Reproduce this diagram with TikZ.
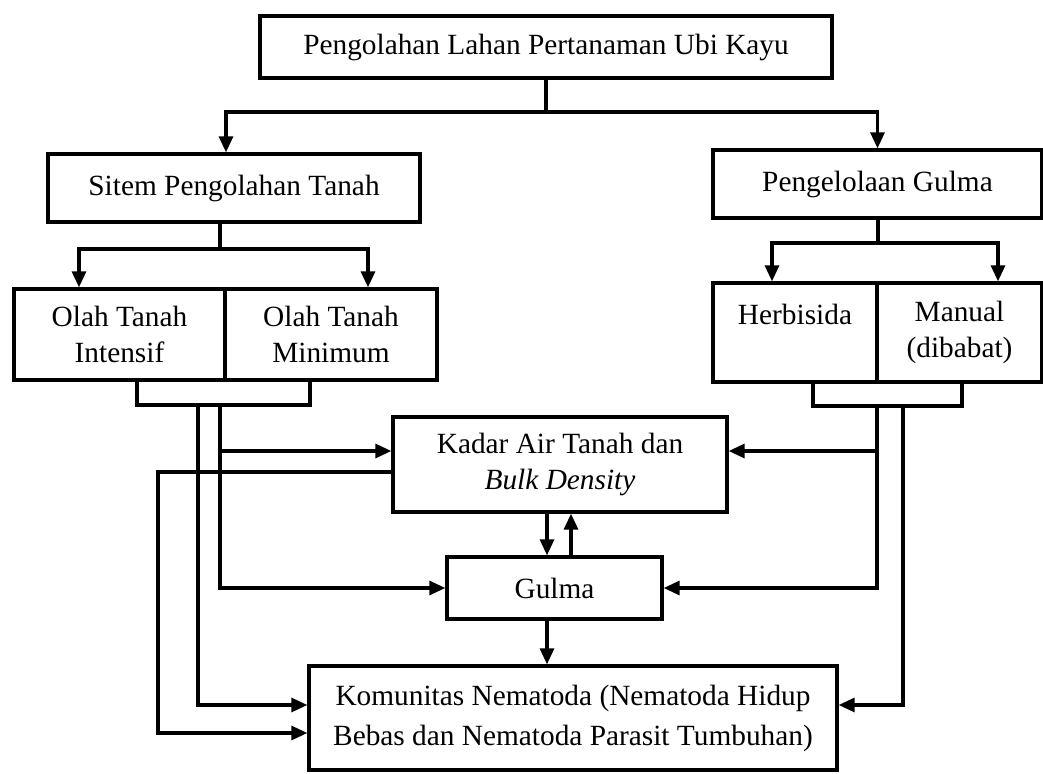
\documentclass[tikz,border=0pt]{standalone}
\usepackage{fontspec}
\setmainfont{Liberation Serif}
\usetikzlibrary{arrows.meta,calc}
\begin{document}
\begin{tikzpicture}[x=0.75pt,y=-0.75pt,
  ln/.style={line width=2.4pt},
  arr/.style={line width=2.4pt,-{Triangle[length=12pt,width=10.5pt]}},
  bx/.style={draw,line width=2.5pt,inner sep=0pt,align=center,
    font=\fontsize{22}{27}\selectfont}]
\useasboundingbox (0,0) rectangle (1043,774);
% boxes
\node[bx,minimum width=429pt,minimum height=46.5pt] (top) at (546,47) {Pengolahan Lahan Pertanaman Ubi Kayu};
\node[bx,minimum width=279pt,minimum height=51pt] (sitem) at (234,188) {Sitem Pengolahan Tanah};
\node[bx,minimum width=246.75pt,minimum height=51pt] (peng) at (877.5,184) {Pengelolaan Gulma};
\node[bx,minimum width=158.25pt,minimum height=68.25pt] (olah1) at (119.5,334.5) {Olah Tanah\\Intensif};
\node[bx,minimum width=159pt,minimum height=68.25pt] (olah2) at (331,334.5) {Olah Tanah\\Minimum};
\node[bx,minimum width=123pt,minimum height=74.25pt] (herb) at (795,332.5) {Herbisida\\\mbox{}};
\node[bx,minimum width=123.75pt,minimum height=74.25pt] (manual) at (959.5,332.5) {Manual\\(dibabat)};
\node[bx,minimum width=250.5pt,minimum height=71.25pt] (kadar) at (560,464.5) {Kadar Air Tanah dan\\\textit{Bulk Density}};
\node[bx,minimum width=161.25pt,minimum height=46.5pt] (gulma) at (554.5,588) {Gulma};
\node[bx,minimum width=396pt,minimum height=78pt,font=\fontsize{22}{30}\selectfont] (kom) at (573,718) {Komunitas Nematoda (Nematoda Hidup\\Bebas dan Nematoda Parasit Tumbuhan)};
% top split
\coordinate (tj) at (546,112);
\draw[ln] (top.south) -- (tj);
\draw[arr] (tj) -| ($(sitem.north)+(-8,0)$);
\draw[arr] (tj) -| (peng.north);
% sitem split
\coordinate (sj) at (220,249);
\draw[ln] (sj |- sitem.south) -- (sj);
\draw[arr] (sj) -| ($(olah1.north)+(-40.5,0)$);
\draw[arr] (sj) -| ($(olah2.north)+(37,0)$);
% peng split
\coordinate (pj) at (878,243);
\draw[ln] (pj |- peng.south) -- (pj);
\draw[arr] (pj) -| ($(herb.north)+(-23,0)$);
\draw[arr] (pj) -| ($(manual.north)+(38.5,0)$);
% brackets
\coordinate (lb1) at (137,405);
\coordinate (lb2) at (310,405);
\draw[ln] (lb1 |- olah1.south) -- (lb1) -- (lb2) -- (lb2 |- olah2.south);
\coordinate (rb1) at (813,406);
\coordinate (rb2) at (962,406);
\draw[ln] (rb1 |- herb.south) -- (rb1) -- (rb2) -- (rb2 |- manual.south);
% left connectors
\coordinate (la) at (198,405);
\coordinate (lc) at (220,405);
\coordinate (lk) at (158,472);
\draw[arr] (la) |- ($(kom.west)+(0,-13)$);
\draw[arr] (lc) |- (gulma.west);
\coordinate (ka) at ($(kadar.west)+(0,-13.5)$);
\draw[arr] (ka -| lc) -- (ka);
\draw[arr] ($(kadar.west)+(0,7.5)$) -- (lk) |- ($(kom.west)+(0,15)$);
% right connectors
\coordinate (ra) at (877,406);
\coordinate (rc) at (903,406);
\coordinate (kr) at ($(kadar.east)+(0,-13.5)$);
\draw[arr] (kr -| ra) -- (kr);
\draw[arr] (ra) |- (gulma.east);
\draw[arr] (rc) |- ($(kom.east)+(0,-13)$);
% middle
\coordinate (m1) at (547,0);
\coordinate (m2) at (571,0);
\draw[arr] (m1 |- kadar.south) -- (m1 |- gulma.north);
\draw[arr] (m2 |- gulma.north) -- (m2 |- kadar.south);
\draw[arr] (m1 |- gulma.south) -- (m1 |- kom.north);
\end{tikzpicture}
\end{document}
